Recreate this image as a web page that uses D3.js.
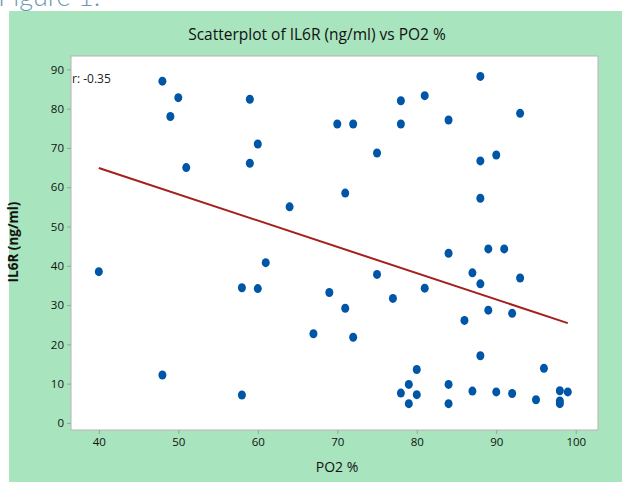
<!DOCTYPE html>
<html>
<head>
<meta charset="utf-8">
<script src="https://cdn.jsdelivr.net/npm/d3@7"></script>
<style>
  body { margin: 0; background: #fff; }
  svg { display: block; font-family: "Open Sans", sans-serif; }
</style>
</head>
<body>
<svg id="chart" width="622" height="482"></svg>
<script>
// PO2 % vs IL6R (ng/ml)
const po2 = [48, 50, 49, 51, 59, 60, 59, 64, 70, 72, 78, 78, 81, 75, 84, 88, 93, 88, 90, 71, 88,
  40, 48, 58, 60, 61, 58, 67, 69, 71, 72, 75, 77, 81, 84, 89, 91, 87, 88, 93, 86, 89, 92, 88,
  96, 80, 79, 78, 80, 79, 84, 84, 87, 90, 92, 95, 98, 99, 98, 98];
const il6r = [87, 82.8, 78, 65, 82.4, 71, 66.1, 55, 76.1, 76.1, 82, 76.1, 83.3, 68.7, 77.1, 88.2, 78.8, 66.7, 68.2, 58.5, 57.2,
  38.5, 12.2, 34.4, 34.2, 40.8, 7.1, 22.7, 33.2, 29.2, 21.8, 37.8, 31.7, 34.3, 43.2, 44.3, 44.3, 38.2, 35.4, 36.9, 26.1, 28.7, 27.9, 17.1,
  13.9, 13.6, 9.8, 7.6, 7.2, 4.9, 9.8, 4.9, 8.1, 7.9, 7.5, 5.9, 8.2, 7.9, 5.6, 4.9];

// fitted line endpoints (PO2, IL6R)
const fitX = [40, 99];
const fitY = [64.9, 25.4];

const xTicks = [40, 50, 60, 70, 80, 90, 100];
const yTicks = [0, 10, 20, 30, 40, 50, 60, 70, 80, 90];

const points = po2.map((d, i) => ({ x: d, y: il6r[i] }));

const svg = d3.select('#chart');

// caption peeking out above the panel
svg.append('text')
  .attr('x', -2)
  .attr('y', 6)
  .style('font-family', 'Lato, sans-serif')
  .style('font-weight', 300)
  .style('font-size', '27px')
  .style('fill', '#6f99b3')
  .text('Figure 1:');

svg.append('rect')
  .attr('x', 9).attr('y', 11)
  .attr('width', 613).attr('height', 471)
  .attr('fill', '#a8e4bd');

const margin = { top: 56, right: 24, bottom: 52, left: 71 };
const width = 622 - margin.left - margin.right;
const height = 482 - margin.top - margin.bottom;

const g = svg.append('g')
  .attr('transform', `translate(${margin.left},${margin.top})`);

g.append('rect')
  .attr('width', width)
  .attr('height', height)
  .attr('fill', '#fff')
  .attr('stroke', '#b4b4b4');

const xScale = d3.scaleLinear()
  .domain([36.5, 102.8])
  .range([0, width]);

const yScale = d3.scaleLinear()
  .domain([-1.8, 93.4])
  .range([height, 0]);

const xAxis = g.append('g')
  .attr('transform', `translate(0,${height})`)
  .call(d3.axisBottom(xScale).tickValues(xTicks).tickSize(4).tickPadding(4));

const yAxis = g.append('g')
  .call(d3.axisLeft(yScale).tickValues(yTicks).tickSize(4).tickPadding(3));

[xAxis, yAxis].forEach(ax => {
  ax.select('.domain').remove();
  ax.selectAll('line').attr('stroke', '#a0a0a0');
  ax.selectAll('text')
    .style('font-family', '"Open Sans", sans-serif')
    .style('font-size', '11.5px')
    .attr('fill', '#111');
});

g.append('line')
  .attr('x1', xScale(fitX[0]))
  .attr('y1', yScale(fitY[0]))
  .attr('x2', xScale(fitX[1]))
  .attr('y2', yScale(fitY[1]))
  .attr('stroke', '#a3201c')
  .attr('stroke-width', 2);

g.selectAll('.dot')
  .data(points)
  .enter()
  .append('ellipse')
  .attr('class', 'dot')
  .attr('cx', d => xScale(d.x))
  .attr('cy', d => yScale(d.y))
  .attr('rx', 4)
  .attr('ry', 4.5)
  .attr('fill', '#0056a6');

g.append('text')
  .attr('x', 1)
  .attr('y', 27)
  .style('font-size', '12px')
  .attr('fill', '#222')
  .text('r: -0.35');

svg.append('text')
  .attr('x', 317)
  .attr('y', 40)
  .attr('text-anchor', 'middle')
  .style('font-size', '15.5px')
  .attr('fill', '#111')
  .text('Scatterplot of IL6R (ng/ml) vs PO2 %');

svg.append('text')
  .attr('x', 337)
  .attr('y', 472)
  .attr('text-anchor', 'middle')
  .style('font-size', '14px')
  .attr('fill', '#111')
  .text('PO2 %');

svg.append('text')
  .attr('transform', 'translate(18,242) rotate(-90)')
  .attr('text-anchor', 'middle')
  .style('font-size', '13.5px')
  .style('font-weight', 'bold')
  .attr('fill', '#111')
  .text('IL6R (ng/ml)');
</script>
</body>
</html>
